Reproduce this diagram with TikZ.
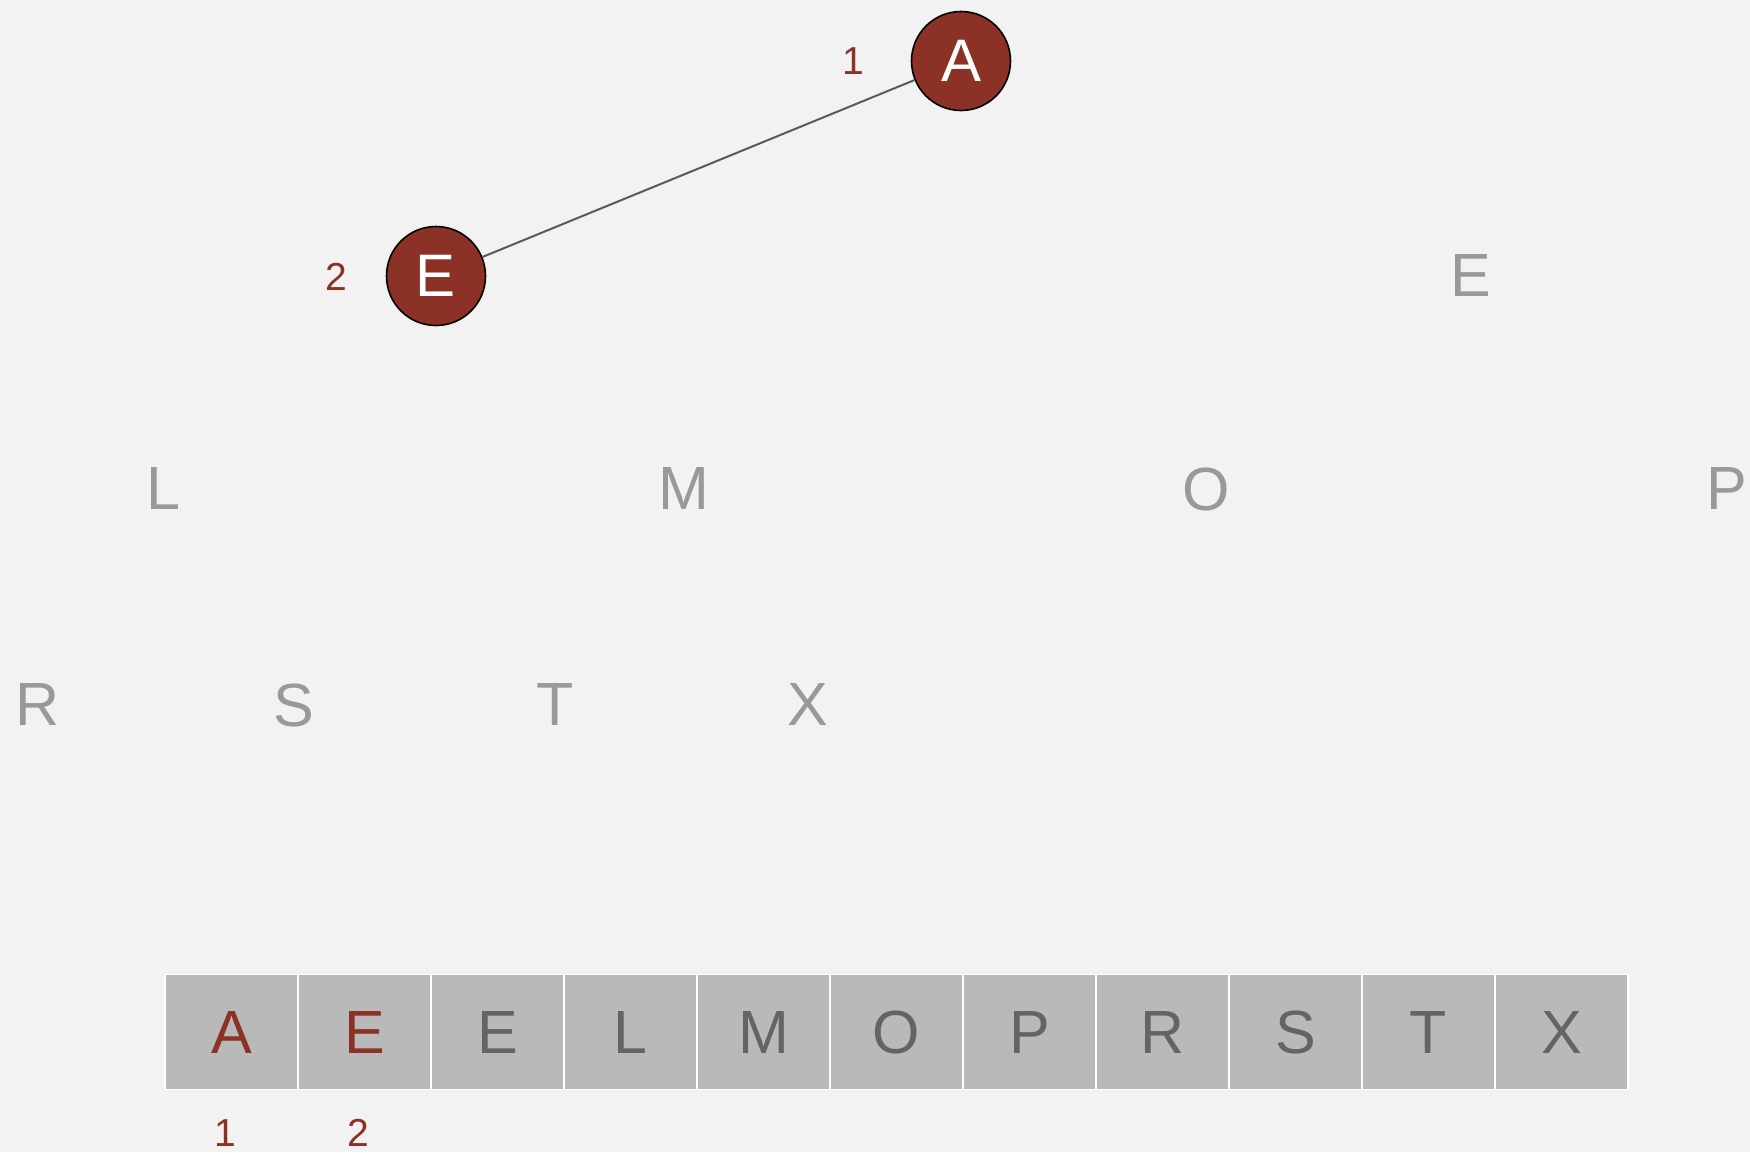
\documentclass[tikz,border=0pt]{standalone}
\usepackage{fontspec}
\setmainfont{Liberation Sans}
\usepackage{tikz}
\usetikzlibrary{positioning}

\definecolor{bgcol}{HTML}{F2F2F2}
\definecolor{sorted}{HTML}{8B3126}
\definecolor{faint}{HTML}{999999}
\definecolor{cellcol}{HTML}{B9B9B9}
\definecolor{celltext}{HTML}{646464}
\definecolor{edgecol}{HTML}{5A5A5A}

\begin{document}
\begin{tikzpicture}[x=1pt, y=-1pt,
    key/.style={circle, draw=black, line width=1.6pt, fill=sorted, text=white,
        minimum size=99pt, inner sep=0pt, font=\fontsize{60}{70}\selectfont},
    faintkey/.style={text=faint, inner sep=0pt, font=\fontsize{61}{70}\selectfont},
    rank/.style={text=sorted, inner sep=0pt, font=\fontsize{39}{45}\selectfont},
    cell/.style={draw=white, line width=1.2pt, fill=cellcol, text=celltext,
        minimum width=133pt, minimum height=115pt, inner sep=0pt,
        font=\fontsize{61}{70}\selectfont},
    edge/.style={draw=edgecol, line width=2pt}]
            % Background
            \fill[bgcol] (0,0) rectangle (1750,1152);
            \useasboundingbox (0,0) rectangle (1750,1152);

            % Tree nodes already placed
            \node[key] (A) at (961,61) {A};
            \node[key] (E) at (436,276) {E};
            \draw[edge] (A) -- (E);
            \node[rank] (rA) at (853,61) {1};
            \node[rank] (rE) at (336,277) {2};

            % Remaining keys, not yet in the tree
            \node[faintkey] (E2) at (1471,276) {E};
            \node[faintkey] (L) at (163,489) {L};
            \node[faintkey] (M) at (684,489) {M};
            \node[faintkey] (O) at (1206,489) {O};
            \node[faintkey] (P) at (1727,489) {P};
            \node[faintkey] (R) at (38,705) {R};
            \node[faintkey] (S) at (294,705) {S};
            \node[faintkey] (T) at (555,705) {T};
            \node[faintkey] (X) at (808,705) {X};

            % Sorted array
            \foreach \ch [count=\i] in {A,E,E,L,M,O,P,R,S,T,X}
                \node[cell] (c\i) at (98.5+133*\i,1032) {\ch};
            \node[cell, text=sorted] at (c1) {A};
            \node[cell, text=sorted] at (c2) {E};

            % Array ranks
            \node[rank] (i1) at ([xshift=-6pt, yshift=-43pt]c1.south) {1};
            \node[rank] (i2) at ([xshift=-6pt, yshift=-43pt]c2.south) {2};
        \end{tikzpicture}
\end{document}
